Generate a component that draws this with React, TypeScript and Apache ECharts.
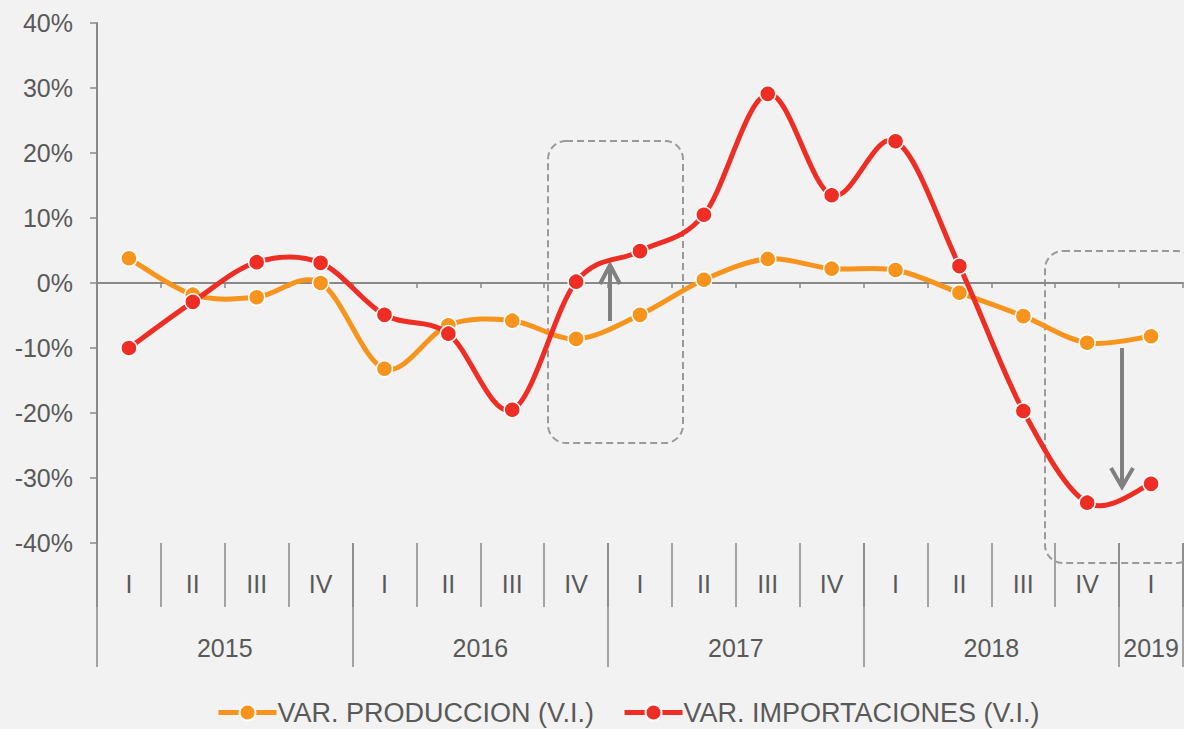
import React, { useEffect, useRef } from "react";
import * as echarts from "echarts";

const quarters = ["I", "II", "III", "IV", "I", "II", "III", "IV", "I", "II", "III", "IV", "I", "II", "III", "IV", "I"];
const years = ["2015", "2016", "2017", "2018", "2019"];
const yearSpans = [4, 4, 4, 4, 1];
const produccion = [3.8, -1.8, -2.2, 0.0, -13.2, -6.5, -5.8, -8.6, -4.9, 0.5, 3.7, 2.2, 2.0, -1.5, -5.1, -9.2, -8.2];
const importaciones = [-10.0, -2.9, 3.2, 3.1, -4.9, -7.8, -19.5, 0.2, 4.9, 10.5, 29.1, 13.5, 21.8, 2.6, -19.7, -33.8, -30.9];
const seriesNames = ["VAR. PRODUCCION (V.I.)", "VAR. IMPORTACIONES (V.I.)"];
const colors = ["#F7941D", "#EE2D24"];

const FONT = "'Liberation Sans', Arial, sans-serif";
const TXT = "#595959";
const AX = "#898989";

// half-slot positions for year labels / separators
const yearSlots: string[] = new Array(quarters.length * 2 + 1).fill("");
const yearBoundaries = new Set<number>([0]);
const yearLabelIdx = new Set<number>();
{
  let start = 0;
  years.forEach((y, i) => {
    const idx = start * 2 + yearSpans[i];
    yearSlots[idx] = y;
    yearLabelIdx.add(idx);
    start += yearSpans[i];
    yearBoundaries.add(start * 2);
  });
}

// Excel-like smoothed path through the points (Catmull-Rom style Bezier)
function smoothPath(pts: number[][]): string {
  const t = 1 / 6;
  let d = `M${pts[0][0]},${pts[0][1]}`;
  for (let i = 0; i < pts.length - 1; i++) {
    const p0 = pts[i - 1] || pts[i];
    const p1 = pts[i];
    const p2 = pts[i + 1];
    const p3 = pts[i + 2] || pts[i + 1];
    const c1x = p1[0] + (p2[0] - p0[0]) * t;
    const c1y = p1[1] + (p2[1] - p0[1]) * t;
    const c2x = p2[0] - (p3[0] - p1[0]) * t;
    const c2y = p2[1] - (p3[1] - p1[1]) * t;
    d += ` C${c1x},${c1y} ${c2x},${c2y} ${p2[0]},${p2[1]}`;
  }
  return d;
}

function curveSeries(values: number[], color: string, z: number) {
  return {
    type: "custom",
    data: values.map((v, i) => [i, v]),
    encode: { x: 0, y: 1 },
    silent: true,
    z,
    renderItem: (params: any, api: any) => {
      if (params.dataIndex !== 0) return null;
      const pts = values.map((v, i) => api.coord([i, v]));
      return {
        type: "path",
        shape: { pathData: smoothPath(pts) },
        style: { fill: "none", stroke: color, lineWidth: 5, lineJoin: "round", lineCap: "round" },
      };
    },
  };
}

function markerSeries(name: string, values: number[], color: string, z: number) {
  return {
    name,
    type: "line",
    data: values,
    symbol: "circle",
    symbolSize: 16,
    lineStyle: { color, width: 5, opacity: 0 },
    itemStyle: { color, borderColor: "#ffffff", borderWidth: 1.5 },
    z,
  };
}

export default function App() {
  const ref = useRef<HTMLDivElement>(null);
  useEffect(() => {
    if (!ref.current) return;
    const chart = echarts.init(ref.current, null, { renderer: "svg" });
    const arrowStyle = { stroke: "#808080", lineWidth: 4, fill: "none" };
    chart.setOption({
      animation: false,
      backgroundColor: "#f2f2f2",
      textStyle: { fontFamily: FONT },
      grid: { left: 97, right: 1, top: 23, bottom: 186, containLabel: false },
      legend: {
        top: 699,
        left: 216,
        padding: 0,
        itemWidth: 58,
        itemHeight: 20,
        itemGap: 28,
        lineStyle: { width: 5, opacity: 1 },
        textStyle: { fontSize: 27, color: TXT, fontFamily: FONT, padding: [0, 0, 0, -4] },
        data: seriesNames,
      },
      xAxis: [
        {
          type: "category",
          data: quarters,
          boundaryGap: true,
          axisLine: { show: true, onZero: true, lineStyle: { color: AX, width: 2 } },
          axisTick: { show: true, length: 5, lineStyle: { color: AX, width: 1.5 } },
          axisLabel: { show: false },
          splitLine: { show: false },
          z: 1,
        },
        {
          type: "category",
          data: quarters,
          position: "bottom",
          boundaryGap: true,
          axisLine: { show: false, onZero: false },
          axisTick: { show: true, length: 64, lineStyle: { color: AX, width: 1.5 } },
          axisLabel: { show: true, interval: 0, margin: 28, fontSize: 25, color: TXT, fontFamily: FONT },
          splitLine: { show: false },
        },
        {
          type: "category",
          data: yearSlots,
          position: "bottom",
          boundaryGap: false,
          axisLine: { show: false, onZero: false },
          axisTick: {
            show: true,
            length: 124,
            interval: (idx: number) => yearBoundaries.has(idx),
            lineStyle: { color: AX, width: 1.5 },
          },
          axisLabel: {
            show: true,
            interval: (idx: number) => yearLabelIdx.has(idx),
            margin: 92,
            fontSize: 25,
            color: TXT,
            fontFamily: FONT,
          },
          splitLine: { show: false },
        },
      ],
      yAxis: {
        type: "value",
        min: -40,
        max: 40,
        interval: 10,
        axisLine: { show: true, lineStyle: { color: AX, width: 2 } },
        axisTick: { show: true, length: 7, lineStyle: { color: AX, width: 1.5 } },
        axisLabel: { formatter: "{value}%", fontSize: 25, color: TXT, margin: 24, fontFamily: FONT },
        splitLine: { show: false },
      },
      series: [
        curveSeries(produccion, colors[0], 2),
        markerSeries(seriesNames[0], produccion, colors[0], 3),
        curveSeries(importaciones, colors[1], 4),
        markerSeries(seriesNames[1], importaciones, colors[1], 5),
      ],
      graphic: [
        {
          type: "rect",
          shape: { x: 548, y: 141, width: 135, height: 302, r: 18 },
          style: { fill: "none", stroke: "#9a9a9a", lineWidth: 2, lineDash: [7, 4] },
          z: 1,
        },
        {
          type: "rect",
          shape: { x: 1045, y: 251, width: 150, height: 312, r: 18 },
          style: { fill: "none", stroke: "#9a9a9a", lineWidth: 2, lineDash: [7, 4] },
          z: 1,
        },
        { type: "line", shape: { x1: 610, y1: 321, x2: 610, y2: 266 }, style: arrowStyle, z: 2 },
        {
          type: "polyline",
          shape: { points: [[600, 284], [610, 265], [620, 284]] },
          style: arrowStyle,
          z: 2,
        },
        { type: "line", shape: { x1: 1122, y1: 348, x2: 1122, y2: 486 }, style: arrowStyle, z: 2 },
        {
          type: "polyline",
          shape: { points: [[1111, 468], [1122, 487], [1133, 468]] },
          style: arrowStyle,
          z: 2,
        },
      ],
    });
    return () => chart.dispose();
  }, []);
  return (
    <div
      ref={ref}
      style={{ position: "fixed", left: 0, top: 0, width: 1184, height: 729 }}
    />
  );
}
